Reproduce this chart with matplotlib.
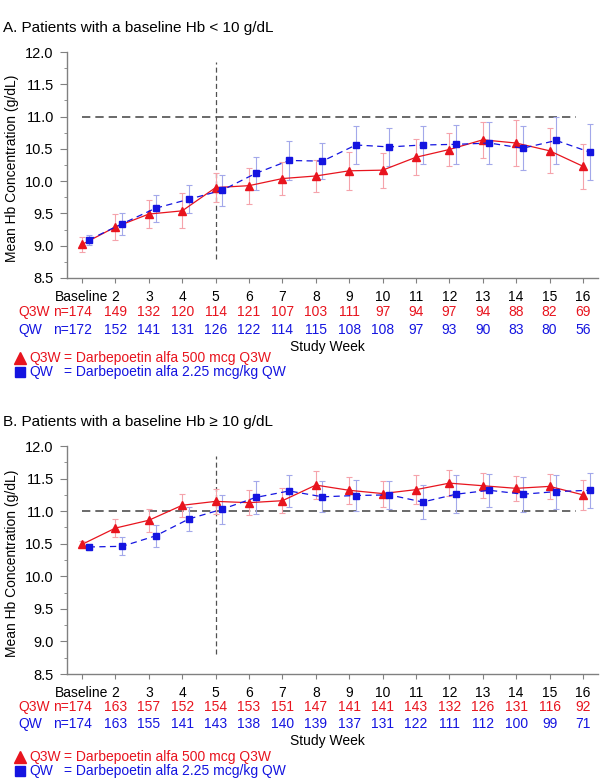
import matplotlib
matplotlib.use("Agg")
import matplotlib.pyplot as plt
import matplotlib.transforms as mtransforms
from matplotlib.lines import Line2D
from matplotlib.ticker import MultipleLocator

plt.rcParams['font.family'] = ['Liberation Sans', 'DejaVu Sans']
plt.rcParams['font.size'] = 10

weeks = list(range(1, 17))
week_labels = ["Baseline"] + [str(w) for w in range(2, 17)]

# Panel A: baseline Hb < 10 g/dL
a_q3w_mean = [9.02, 9.29, 9.49, 9.54, 9.90, 9.93, 10.04, 10.08, 10.16, 10.17, 10.37, 10.49, 10.64, 10.59, 10.47, 10.23]
a_q3w_err = [0.12, 0.20, 0.22, 0.27, 0.22, 0.28, 0.25, 0.25, 0.29, 0.27, 0.28, 0.26, 0.28, 0.35, 0.35, 0.35]
a_qw_mean = [9.09, 9.34, 9.58, 9.72, 9.86, 10.12, 10.32, 10.31, 10.56, 10.53, 10.56, 10.57, 10.59, 10.51, 10.63, 10.45]
a_qw_err = [0.08, 0.17, 0.21, 0.22, 0.24, 0.26, 0.30, 0.28, 0.29, 0.30, 0.30, 0.30, 0.33, 0.34, 0.36, 0.43]
a_q3w_n = [174, 149, 132, 120, 114, 121, 107, 103, 111, 97, 94, 97, 94, 88, 82, 69]
a_qw_n = [172, 152, 141, 131, 126, 122, 114, 115, 108, 108, 97, 93, 90, 83, 80, 56]

# Panel B: baseline Hb >= 10 g/dL
b_q3w_mean = [10.49, 10.74, 10.86, 11.09, 11.15, 11.13, 11.16, 11.40, 11.32, 11.27, 11.33, 11.43, 11.39, 11.35, 11.38, 11.25]
b_q3w_err = [0.05, 0.14, 0.18, 0.18, 0.19, 0.19, 0.19, 0.22, 0.21, 0.20, 0.22, 0.20, 0.19, 0.19, 0.19, 0.23]
b_qw_mean = [10.45, 10.46, 10.62, 10.88, 11.03, 11.21, 11.31, 11.22, 11.24, 11.25, 11.14, 11.26, 11.32, 11.26, 11.30, 11.32]
b_qw_err = [0.05, 0.14, 0.17, 0.19, 0.22, 0.25, 0.24, 0.24, 0.24, 0.22, 0.26, 0.29, 0.25, 0.27, 0.26, 0.27]
b_q3w_n = [174, 163, 157, 152, 154, 153, 151, 147, 141, 141, 143, 132, 126, 131, 116, 92]
b_qw_n = [174, 163, 155, 141, 143, 138, 140, 139, 137, 131, 122, 111, 112, 100, 99, 71]

RED = '#e8141e'
BLUE = '#1414e0'
RED_ERR = '#f5a3ab'
BLUE_ERR = '#a3a8ea'
SPINE = '#808080'
REF = '#505050'
FS = 10

W, H = 600, 781
fig = plt.figure(figsize=(6, 7.81), dpi=100)


def fy(px):
    return 1 - px / H


def panel(top_px, bot_px, title, title_px, q3w_m, q3w_e, qw_m, qw_e, q3w_n, qw_n, rows_px):
    ax = fig.add_axes([67 / W, fy(bot_px), (598 - 67) / W, (bot_px - top_px) / H])
    ax.set_xlim(0.55, 16.45)
    ax.set_ylim(8.5, 12.0)
    for s in ['top', 'right']:
        ax.spines[s].set_visible(False)
    for s in ['left', 'bottom']:
        ax.spines[s].set_color(SPINE)
        ax.spines[s].set_linewidth(1.0)
    ax.yaxis.set_minor_locator(MultipleLocator(0.25))
    ax.set_yticks([8.5, 9.0, 9.5, 10.0, 10.5, 11.0, 11.5, 12.0])
    ax.set_yticklabels(['8.5', '9.0', '9.5', '10.0', '10.5', '11.0', '11.5', '12.0'], fontsize=10.5)
    ax.tick_params(axis='y', which='major', length=5, color=SPINE, pad=4.5)
    ax.tick_params(axis='y', which='minor', length=2.5, color=SPINE)
    ax.set_xticks(weeks)
    ax.set_xticklabels(week_labels, fontsize=FS)
    ax.tick_params(axis='x', length=3.5, color=SPINE, pad=5)

    # reference lines
    ax.plot([1, 15.8], [11.0, 11.0], color=REF, lw=1.2, dashes=(5, 3), zorder=1)
    ax.plot([5, 5], [8.8, 11.85], color=REF, lw=0.9, dashes=(4, 2.5), zorder=1)

    xq = [w for w in weeks]
    xw = [w + 0.2 for w in weeks]
    ax.errorbar(xq, q3w_m, yerr=q3w_e, fmt='none', ecolor=RED_ERR, elinewidth=0.8, capsize=2.2, capthick=0.8, zorder=2)
    ax.errorbar(xw, qw_m, yerr=qw_e, fmt='none', ecolor=BLUE_ERR, elinewidth=0.8, capsize=2.2, capthick=0.8, zorder=2)
    ax.plot(xq, q3w_m, color=RED, lw=0.9, marker='^', ms=6, mec=RED, mfc=RED, zorder=3)
    ax.plot(xw, qw_m, color=BLUE, lw=0.9, dashes=(5, 3.5), marker='s', ms=5, mec=BLUE, mfc=BLUE, zorder=3)

    fig.text(3 / W, fy(title_px), title, fontsize=11, ha='left', va='center')
    fig.text(12 / W, fy((top_px + bot_px) / 2 + 3), 'Mean Hb Concentration (g/dL)', rotation=90,
             fontsize=FS, ha='center', va='center')

    tr = mtransforms.blended_transform_factory(ax.transData, fig.transFigure)
    r_q3w, r_qw, r_sw, r_l1, r_l2 = rows_px
    fig.text(18 / W, fy(r_q3w), 'Q3W', color=RED, fontsize=FS, ha='left', va='center')
    fig.text(18 / W, fy(r_qw), 'QW', color=BLUE, fontsize=FS, ha='left', va='center')
    for i, w in enumerate(weeks):
        if i == 0:
            ax.text(1.31, fy(r_q3w), 'n=%d' % q3w_n[i], color=RED, fontsize=FS, ha='right', va='center', transform=tr)
            ax.text(1.31, fy(r_qw), 'n=%d' % qw_n[i], color=BLUE, fontsize=FS, ha='right', va='center', transform=tr)
        else:
            ax.text(w, fy(r_q3w), str(q3w_n[i]), color=RED, fontsize=FS, ha='center', va='center', transform=tr)
            ax.text(w, fy(r_qw), str(qw_n[i]), color=BLUE, fontsize=FS, ha='center', va='center', transform=tr)
    fig.text(327.5 / W, fy(r_sw), 'Study Week', fontsize=FS, ha='center', va='center')

    fig.add_artist(Line2D([20 / W], [fy(r_l1)], marker='^', ms=8, color=RED, mec=RED, ls='none'))
    fig.add_artist(Line2D([20 / W], [fy(r_l2)], marker='s', ms=7, color=BLUE, mec=BLUE, ls='none'))
    fig.text(29 / W, fy(r_l1), 'Q3W', color=RED, fontsize=FS, ha='left', va='center')
    fig.text(64 / W, fy(r_l1), '= Darbepoetin alfa 500 mcg Q3W', color=RED, fontsize=FS, ha='left', va='center')
    fig.text(29 / W, fy(r_l2), 'QW', color=BLUE, fontsize=FS, ha='left', va='center')
    fig.text(64 / W, fy(r_l2), '= Darbepoetin alfa 2.25 mcg/kg QW', color=BLUE, fontsize=FS, ha='left', va='center')
    return ax


panel(52, 278, 'A. Patients with a baseline Hb < 10 g/dL', 28,
      a_q3w_mean, a_q3w_err, a_qw_mean, a_qw_err, a_q3w_n, a_qw_n,
      (312, 330, 347, 358, 372))
panel(446, 674, 'B. Patients with a baseline Hb \u2265 10 g/dL', 422,
      b_q3w_mean, b_q3w_err, b_qw_mean, b_qw_err, b_q3w_n, b_qw_n,
      (707, 724, 741, 757, 771))

fig.savefig('out.png', dpi=100)
